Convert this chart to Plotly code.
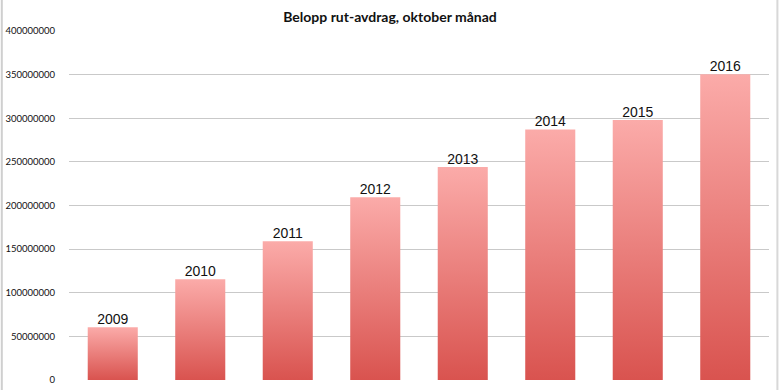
import plotly.graph_objects as go

years = ["2009", "2010", "2011", "2012", "2013", "2014", "2015", "2016"]
values = [60500000, 115500000, 159000000, 209500000, 244000000, 287000000, 298000000, 350500000]
tick_vals = [0, 50000000, 100000000, 150000000, 200000000, 250000000, 300000000, 350000000, 400000000]
tick_text = [str(v) for v in tick_vals]
title_text = "Belopp rut-avdrag, oktober månad"

bar_half = 0.286
top_col = "#FBABA9"
bottom_col = "#D9534F"

fig = go.Figure()
for i, (yr, v) in enumerate(zip(years, values)):
    fig.add_trace(go.Scatter(
        x=[i - bar_half, i - bar_half, i + bar_half, i + bar_half, i - bar_half],
        y=[0, v, v, 0, 0],
        mode="lines", line=dict(width=0),
        fill="toself",
        fillgradient=dict(type="vertical", colorscale=[[0, bottom_col], [1, top_col]]),
        hoverinfo="skip", showlegend=False, name=yr,
    ))

fig.add_trace(go.Scatter(
    x=list(range(len(years))), y=values, text=years,
    mode="text", textposition="top center",
    textfont=dict(family="Liberation Sans, Arial", size=14, color="#111111"),
    showlegend=False, hoverinfo="skip",
))

fig.update_layout(
    width=780, height=390,
    margin=dict(l=69, r=11, t=31, b=10, autoexpand=False),
    paper_bgcolor="white", plot_bgcolor="white",
    title=dict(text="<b>" + title_text + "</b>", x=0.5, xanchor="center", y=0.955, yanchor="middle",
               font=dict(family="Lato, Open Sans, sans-serif", size=14, color="#111111")),
    xaxis=dict(range=[-0.5, 7.5], showticklabels=False, showgrid=False, zeroline=False,
               showline=False, ticks="", automargin=False),
    yaxis=dict(range=[0, 400000000], tickvals=tick_vals, ticktext=tick_text,
               showgrid=True, gridcolor="#C9C9C9", gridwidth=1.2, zeroline=False,
               showline=False, ticks="", ticklabelstandoff=13, automargin=False,
               tickfont=dict(family="Lato, Open Sans, sans-serif", size=9.5, color="#111111")),
    shapes=[
        dict(type="line", xref="paper", yref="paper", x0=-0.096, x1=-0.096, y0=-0.05, y1=1.1,
             line=dict(color="#CFCFCF", width=2)),
        dict(type="line", xref="paper", yref="paper", x0=1.012, x1=1.012, y0=-0.05, y1=1.1,
             line=dict(color="#D8D8D8", width=2)),
    ],
)

fig.write_html("out.html", config={"displayModeBar": False},
               post_script="document.body.style.margin='0';document.body.style.overflow='hidden';")
